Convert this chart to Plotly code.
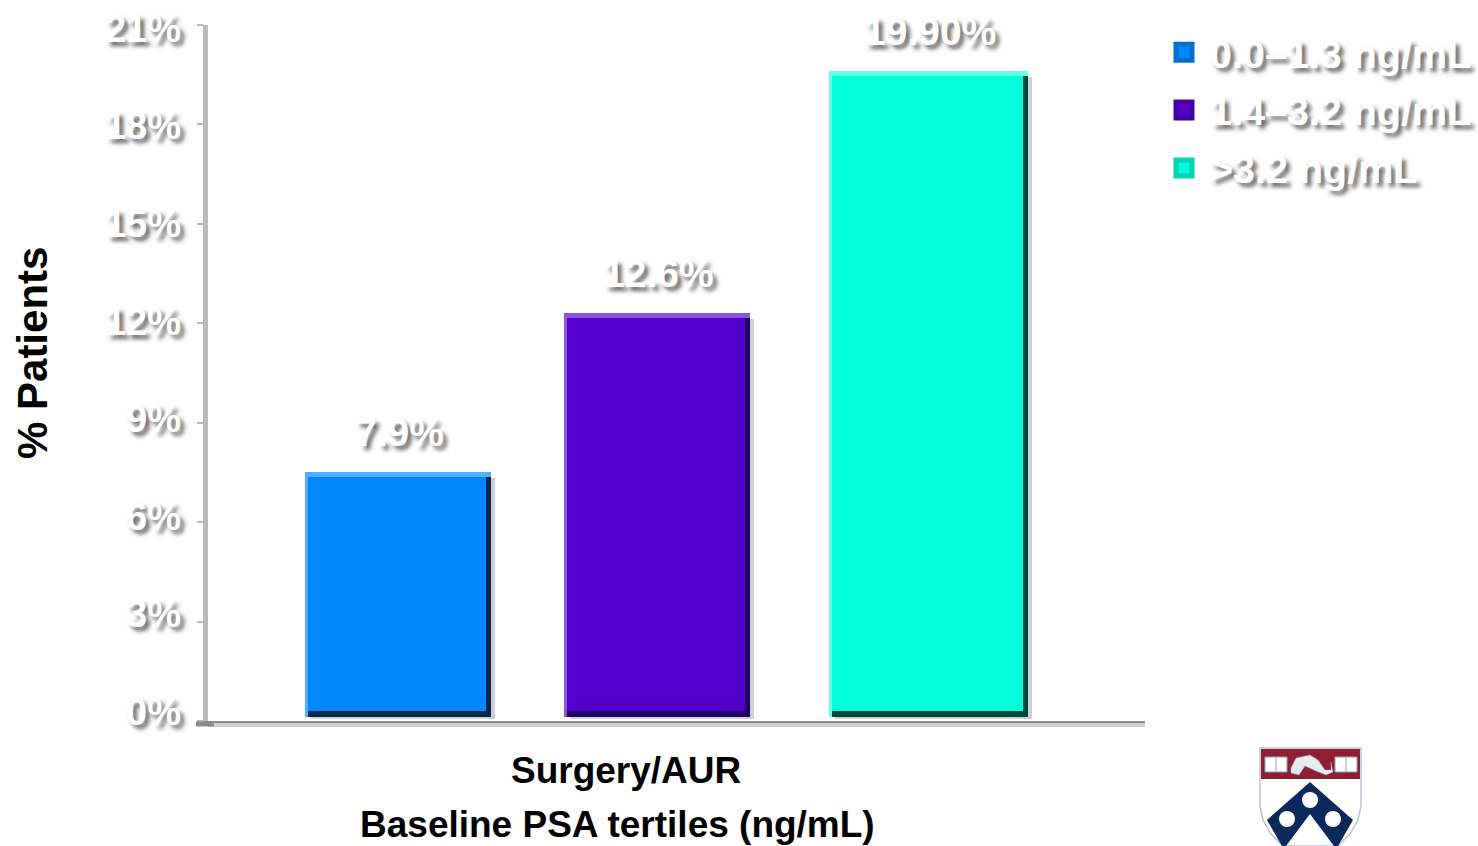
import plotly.graph_objects as go

# ---- data ----
tertiles = ["0.0–1.3 ng/mL", "1.4–3.2 ng/mL", ">3.2 ng/mL"]
bar_heights = [7.5, 12.3, 19.6]
bar_labels = ["7.9%", "12.6%", "19.90%"]
y_ticks = [0, 3, 6, 9, 12, 15, 18, 21]
y_tick_labels = ["0%", "3%", "6%", "9%", "12%", "15%", "18%", "21%"]

# ---- layout / style ----
W, H = 1478, 846
L, R, T, B = 208, 1145, 25, 721
bar_pos = [1, 1.977, 3]
bar_width = [0.701, 0.701, 0.750]
x_range = [0.2837, 3.816]
y_range = [0, 21]
label_axis_range = [-0.29, 21.11]   # tick labels sit on a slightly tighter scale than the tick marks
main = ["#0088FF", "#5500CC", "#00FFD8"]
light = ["#55AEFF", "#8A55DD", "#66FFE8"]
dark = ["#00284D", "#1C0066", "#00493D"]
swatch_edge = ["#0070CC", "#4400A6", "#00D4B4"]
ux = (x_range[1] - x_range[0]) / (R - L)   # x units per pixel
uy = (y_range[1] - y_range[0]) / (B - T)   # y units per pixel
FONT = "Liberation Sans, Arial, sans-serif"
SHADOW = "4px 4px 4px #666"

fig = go.Figure()
base0 = 4 * uy


def layer(color, x0_px, x1_px, y0_px, y1_px, opacity=1.0):
    """One bevel layer of all three bars, offset in pixels from the bar box."""
    fig.add_trace(go.Bar(
        x=bar_pos,
        y=[v - (y0_px + y1_px) * uy - base0 for v in bar_heights],
        base=[base0 + y0_px * uy] * 3,
        width=[w - (x0_px + x1_px) * ux for w in bar_width],
        offset=[-w / 2 + x0_px * ux for w in bar_width],
        marker=dict(color=color, line=dict(width=0)),
        opacity=opacity, showlegend=False, hoverinfo="skip",
    ))


layer("#d0d0d0", 6, -4, -2, 6)       # soft drop shadow
layer(light, 0, 0, 0, 0)             # highlight, top and left
layer(dark, 3, 0, 0, 5)              # dark right and bottom
layer(main, 3, 5, 6, 5)              # face

# legend entries (they also carry the tick-label axis)
for name, c, d in zip(tertiles, main, swatch_edge):
    fig.add_trace(go.Scatter(
        x=[bar_pos[0]], y=[None], yaxis="y2", mode="markers", name=name, legendgroup=name,
        marker=dict(symbol="square", size=16, color=c, line=dict(color=d, width=5)),
    ))

annotations = []
for x, v, t in zip(bar_pos, bar_heights, bar_labels):
    annotations.append(dict(
        x=x, y=v, xref="x", yref="y", text=f"<b>{t}</b>", showarrow=False,
        xanchor="center", yanchor="middle", yshift=40, xshift=1,
        font=dict(family=FONT, size=39, color="white", shadow=SHADOW),
    ))


def paper_x(px):
    return (px - L) / (R - L)


def paper_y(py):
    return (B - py) / (B - T)


black = dict(family=FONT, size=37, color="black")
annotations += [
    dict(x=paper_x(626), y=paper_y(770), xref="paper", yref="paper", showarrow=False,
         xanchor="center", yanchor="middle", text="<b>Surgery/AUR</b>", font=black),
    dict(x=paper_x(617), y=paper_y(824), xref="paper", yref="paper", showarrow=False,
         xanchor="center", yanchor="middle", text="<b>Baseline PSA tertiles (ng/mL)</b>", font=black),
    dict(x=paper_x(32), y=paper_y(353), xref="paper", yref="paper", showarrow=False,
         xanchor="center", yanchor="middle", text="<b>% Patients</b>", textangle=-90,
         font=dict(family=FONT, size=42, color="black")),
]


# ---- University shield, drawn as page-level shapes ----
def P(points, close=True):
    s = "M" + " L".join(f"{paper_x(x):.5f},{paper_y(y):.5f}" for x, y in points)
    return s + (" Z" if close else "")


def add_path(points, fill, line="rgba(0,0,0,0)", lw=0):
    fig.add_shape(type="path", xref="paper", yref="paper", path=P(points),
                  fillcolor=fill, line=dict(color=line, width=lw), layer="above")


def add_circle(cx, cy, r, fill):
    fig.add_shape(type="circle", xref="paper", yref="paper",
                  x0=paper_x(cx - r), x1=paper_x(cx + r), y0=paper_y(cy + r), y1=paper_y(cy - r),
                  fillcolor=fill, line=dict(width=0), layer="above")


def add_rule(x0, y0, x1, y1, color, width):
    fig.add_shape(type="line", xref="paper", yref="paper",
                  x0=paper_x(x0), x1=paper_x(x1), y0=paper_y(y0), y1=paper_y(y1),
                  line=dict(color=color, width=width), layer="above")


add_path([(1260, 748), (1361, 748), (1361, 806), (1358, 820), (1350, 834), (1338, 846),
          (1283, 846), (1271, 834), (1263, 820), (1260, 806)], "white", "#b7c3d4", 1.5)
add_path([(1261, 749), (1360, 749), (1360, 779), (1261, 779)], "#8F1F30")
navy = "#0B2A5B"
add_path([(1310, 782), (1353, 820), (1338, 846), (1334, 846), (1310, 814), (1286, 846), (1282, 846), (1267, 820)], navy)
add_circle(1310, 800, 8, "white")
add_circle(1287, 819, 8, "white")
add_circle(1333, 819, 8, "white")
for bx in (1265, 1335):
    add_path([(bx, 757), (bx + 22, 757), (bx + 22, 772), (bx, 772)], "white", "#8fa2bd", 1)
    add_rule(bx + 11, 757, bx + 11, 772, "#8fa2bd", 1)
add_path([(1291, 768), (1296, 758), (1310, 755), (1318, 760), (1325, 770), (1331, 770),
          (1331, 762), (1333, 772), (1326, 775), (1316, 771), (1305, 766), (1299, 775), (1291, 773)],
         "#E6EBF2", "#8fa2bd", 0.5)

# axis shadow and the long tick at zero
add_rule(L, 725, R, 725, "#d2d2d2", 4)
add_rule(196, 724, 214, 724, "#8a8a8a", 5)

fig.update_layout(
    width=W, height=H, autosize=False,
    paper_bgcolor="white", plot_bgcolor="white",
    margin=dict(l=L, r=W - R, t=T, b=H - B, pad=0, autoexpand=False),
    barmode="overlay", bargap=0,
    font=dict(family=FONT),
    xaxis=dict(range=x_range, showticklabels=False, ticks="", showgrid=False, zeroline=False,
               showline=True, linecolor="#8c8c8c", linewidth=2),
    yaxis=dict(range=y_range, tickmode="array", tickvals=y_ticks, showticklabels=False,
               ticks="outside", ticklen=6, tickwidth=2, tickcolor="#b8b8b8",
               showgrid=False, zeroline=False, showline=True, linecolor="#bcbcbc", linewidth=5),
    yaxis2=dict(range=label_axis_range, overlaying="y", side="left", tickmode="array",
                tickvals=y_ticks, ticktext=[f"<b>{t}</b>" for t in y_tick_labels],
                tickfont=dict(family=FONT, size=38, color="white", shadow=SHADOW),
                ticks="", ticklabelstandoff=26, showgrid=False, zeroline=False, showline=False),
    legend=dict(x=paper_x(1158), xanchor="left", y=paper_y(20), yanchor="top",
                itemwidth=42, tracegroupgap=3.5, traceorder="grouped",
                font=dict(family=FONT, size=39.5, color="white", shadow=SHADOW, weight="bold"),
                bgcolor="rgba(0,0,0,0)", borderwidth=0, itemclick=False, itemdoubleclick=False),
    annotations=annotations,
    showlegend=True,
)

fig.write_html("out.html", config={"displayModeBar": False},
               post_script="document.body.style.margin='0';document.body.style.overflow='hidden';")
